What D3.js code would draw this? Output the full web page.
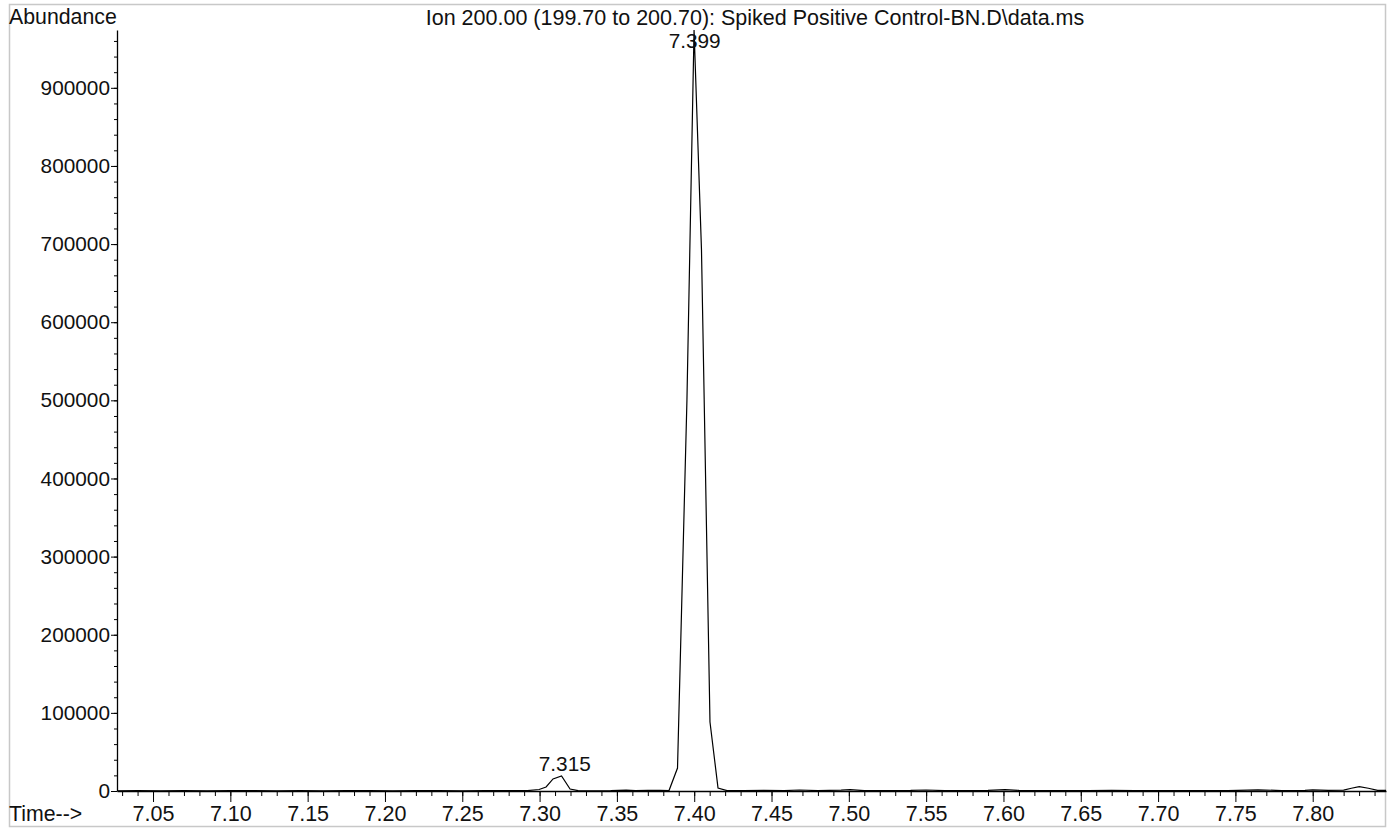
<!DOCTYPE html>
<html>
<head>
<meta charset="utf-8">
<script src="https://cdn.jsdelivr.net/npm/d3@7"></script>
<style>
  body { margin: 0; background: #fff; }
  svg text { font-family: "Liberation Sans", Arial, Helvetica, sans-serif; fill: #111; }
</style>
</head>
<body>
<svg id="chart"></svg>
<script>
// Set dimensions for the SVG
const width = 1388;
const height = 829;

// Chart data
const title = "Ion 200.00 (199.70 to 200.70): Spiked Positive Control-BN.D\\data.ms";
const times = [
  7.027, 7.040, 7.055, 7.070, 7.085, 7.100, 7.115, 7.130, 7.145, 7.160,
  7.175, 7.190, 7.205, 7.220, 7.235, 7.250, 7.265, 7.280, 7.292,
  7.2997, 7.3042, 7.3087, 7.3142, 7.3197, 7.3249,
  7.335, 7.346, 7.356, 7.362, 7.370, 7.378,
  7.3837, 7.3892, 7.3953, 7.3999, 7.4047, 7.4102, 7.4154, 7.4212,
  7.432, 7.445, 7.458, 7.468, 7.480, 7.495, 7.5008, 7.510, 7.525, 7.540,
  7.550, 7.562, 7.575, 7.590, 7.601, 7.610, 7.625, 7.640, 7.655, 7.670,
  7.685, 7.700, 7.715, 7.730, 7.745, 7.7646, 7.780, 7.795, 7.800, 7.810,
  7.820, 7.825, 7.8301, 7.836, 7.842, 7.8474
];
const abundance = [
  300, 400, 300, 500, 300, 400, 600, 300, 400, 300,
  500, 400, 300, 500, 400, 300, 600, 400, 500,
  1900, 5100, 15400, 19200, 2600, 600,
  300, 400, 1200, 500, 900, 700,
  600, 29400, 500600, 974000, 692600, 88300, 3800, 600,
  400, 700, 500, 1300, 600, 1000, 1800, 600, 500, 700,
  1300, 500, 600, 800, 1800, 700, 500, 600, 400, 700,
  500, 600, 400, 500, 600, 1400, 600, 800, 1500, 700,
  1200, 3500, 5500, 3500, 900, 700
];

// Labelled peaks
const peakTimes = [7.315, 7.399];
const peakValues = [19200, 974000];
const peakLabels = ["7.315", "7.399"];

// Axis ticks
const xMajorTicks = [7.05, 7.10, 7.15, 7.20, 7.25, 7.30, 7.35, 7.40, 7.45, 7.50, 7.55, 7.60, 7.65, 7.70, 7.75, 7.80];
const yMajorTicks = [0, 100000, 200000, 300000, 400000, 500000, 600000, 700000, 800000, 900000];

const svg = d3.select("#chart")
              .attr("width", width)
              .attr("height", height);

// frame round the whole picture
svg.append("rect")
   .attr("x", 9.5).attr("y", 4.5)
   .attr("width", 1376).attr("height", 822)
   .attr("fill", "none")
   .attr("stroke", "#c8c8c8")
   .attr("stroke-width", 1.5);

const x = d3.scaleLinear().domain([7.0267, 7.8474]).range([117, 1386]);
const y = d3.scaleLinear().domain([0, 974000]).range([791, 30]);

// minor x ticks every 0.01
const xMinor = d3.range(7.03, 7.845, 0.01).map(v => +v.toFixed(2));
svg.append("g")
   .attr("transform", "translate(0,791)")
   .call(d3.axisBottom(x).tickValues(xMinor).tickSize(5).tickFormat("").tickSizeOuter(0))
   .call(g => g.select(".domain").remove());

svg.append("g")
   .attr("transform", "translate(0,791)")
   .call(d3.axisBottom(x).tickValues(xMajorTicks).tickSize(11).tickPadding(4)
           .tickFormat(d3.format(".2f")).tickSizeOuter(0))
   .call(g => g.selectAll("text").style("font-size", "21.5px").attr("fill", "#111"))
   .call(g => g.select(".domain").attr("stroke-width", 1.3));

// minor y ticks every 20000
const yMinor = d3.range(20000, 974000, 20000);
svg.append("g")
   .attr("transform", "translate(117,0)")
   .call(d3.axisLeft(y).tickValues(yMinor).tickSize(3).tickFormat("").tickSizeOuter(0))
   .call(g => g.select(".domain").remove());

svg.append("g")
   .attr("transform", "translate(117,0)")
   .call(d3.axisLeft(y).tickValues(yMajorTicks).tickSize(6).tickPadding(1)
           .tickFormat(d3.format("d")).tickSizeOuter(0))
   .call(g => g.selectAll("text").style("font-size", "20.8px").attr("fill", "#111"))
   .call(g => g.select(".domain").attr("stroke-width", 1.3));

// the trace
const points = times.map((t, i) => [t, abundance[i]]);
svg.append("path")
   .datum(points)
   .attr("fill", "none")
   .attr("stroke", "#000")
   .attr("stroke-width", 1.2)
   .attr("d", d3.line().x(d => x(d[0])).y(d => y(d[1])));

// peak labels
svg.selectAll(".peak")
   .data(peakTimes)
   .enter().append("text")
   .attr("class", "peak")
   .attr("x", d => x(d) + 2)
   .attr("y", (d, i) => Math.max(y(peakValues[i]) - 5, 48))
   .attr("text-anchor", "middle")
   .style("font-size", "20.8px")
   .text((d, i) => peakLabels[i]);

// texts
svg.append("text").attr("x", 9).attr("y", 24).style("font-size", "21.3px").text("Abundance");
svg.append("text").attr("x", 755).attr("y", 25).attr("text-anchor", "middle").style("font-size", "21.5px").text(title);
svg.append("text").attr("x", 9).attr("y", 821).style("font-size", "21.3px").text("Time-->");
</script>
</body>
</html>
